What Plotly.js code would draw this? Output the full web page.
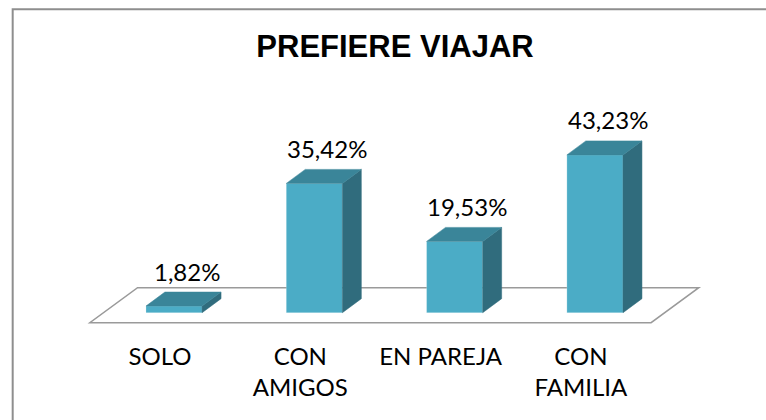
<!DOCTYPE html>
<html>
<head>
<meta charset="utf-8">
<script src="https://cdn.plot.ly/plotly-3.0.1.min.js"></script>
<style>html,body{margin:0;padding:0;background:#fff;}#chart{width:766px;height:420px;}</style>
</head>
<body>
<div id="chart"></div>
<script>
// ---- data ----
const categories = ['SOLO', 'CON AMIGOS', 'EN PAREJA', 'CON FAMILIA'];
const tickLabels = ['SOLO', 'CON<br>AMIGOS', 'EN PAREJA', 'CON<br>FAMILIA'];
const values = [1.82, 35.42, 19.53, 43.23];
const valueLabels = ['1,82%', '35,42%', '19,53%', '43,23%'];

// ---- style constants ----
const BAR_W = 0.4, BAR_OFF = -0.1;      // front face from i-0.1 to i+0.3
const DX = 0.135, DY = 3.84;            // pseudo-3D depth (x units, value units)
const FRONT = '#4BACC6', TOP = '#3A8599', SIDE = '#306C7D';
const FONT = 'Lato, "Open Sans", "Liberation Sans", sans-serif';

const idx = categories.map((_, i) => i);
const traces = [];
traces.push({
  type: 'bar', x: idx, y: values, width: BAR_W, offset: BAR_OFF,
  marker: {color: FRONT, line: {color: 'rgba(255,255,255,0.35)', width: 0.6}},
  hoverinfo: 'skip', cliponaxis: false
});
values.forEach((v, i) => {
  const xl = i + BAR_OFF, xr = i + BAR_OFF + BAR_W;
  traces.push({
    type: 'scatter', mode: 'lines', fill: 'toself', fillcolor: SIDE,
    line: {width: 0.5, color: SIDE}, hoverinfo: 'skip',
    x: [xr, xr + DX, xr + DX, xr, xr],
    y: [0, DY, v + DY, v, 0]
  });
  traces.push({
    type: 'scatter', mode: 'lines', fill: 'toself', fillcolor: TOP,
    line: {width: 0.5, color: TOP}, hoverinfo: 'skip',
    x: [xl, xr, xr + DX, xl + DX, xl],
    y: [v, v, v + DY, v + DY, v]
  });
});

const annotations = values.map((v, i) => ({
  x: i + 0.19, y: v, xref: 'x', yref: 'y', yshift: 35,
  text: valueLabels[i], showarrow: false, yanchor: 'middle', xanchor: 'center',
  font: {family: FONT, size: 24, color: '#000'}
}));

// floor parallelogram (decoration)
const FL = -0.5, FR = 3.5, FDX = 0.34, FY0 = -2.74, FY1 = 6.85;
const shapes = [
  {type: 'path', xref: 'x', yref: 'y', layer: 'below',
   path: `M ${FL} ${FY0} L ${FR} ${FY0} L ${FR + FDX} ${FY1} L ${FL + FDX} ${FY1} Z`,
   fillcolor: '#fff', line: {color: '#9A9A9A', width: 1.5}},
  {type: 'rect', xref: 'paper', yref: 'paper', layer: 'below',
   x0: -0.1042, x1: 1.3, y0: -0.6, y1: 1.1878,
   line: {color: '#8E8E8E', width: 2}, fillcolor: 'rgba(0,0,0,0)'}
];

const layout = {
  width: 766, height: 420,
  margin: {l: 80, r: 40, t: 60, b: 90},
  paper_bgcolor: '#fff', plot_bgcolor: 'rgba(0,0,0,0)',
  showlegend: false, hovermode: false,
  title: {text: '<b>PREFIERE VIAJAR</b>', xref: 'container', yref: 'container',
          x: 395 / 766, y: 1 - 46 / 420, xanchor: 'center', yanchor: 'middle',
          font: {family: '"Liberation Sans", Arial, sans-serif', size: 31, color: '#000'}},
  xaxis: {range: [-0.5702, 4.034], tickvals: idx, ticktext: tickLabels,
          showgrid: false, zeroline: false, showline: false, ticks: '',
          ticklabelstandoff: 10,
          tickfont: {family: FONT, size: 24, color: '#000'}, fixedrange: true},
  yaxis: {range: [-4.74, 69.23], visible: false, showgrid: false, zeroline: false, fixedrange: true},
  annotations: annotations,
  shapes: shapes
};

Plotly.newPlot('chart', traces, layout, {displayModeBar: false, staticPlot: true});
</script>
</body>
</html>
